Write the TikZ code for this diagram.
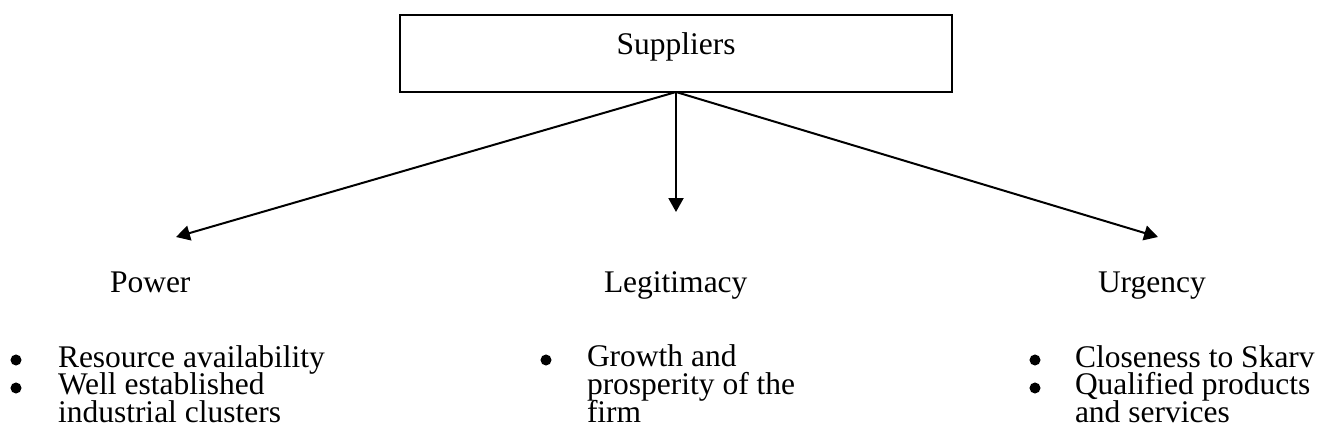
\documentclass[tikz,border=0pt]{standalone}
\usepackage{fontspec}
\setmainfont{Liberation Serif}
\usetikzlibrary{arrows.meta}
% 12pt text with a fixed line pitch
\newcommand\diagfont{\fontsize{12pt}{10.48pt}\selectfont\lineskiplimit=-20pt\relax\lineskip=0pt\relax}
\begin{document}
\begin{tikzpicture}[x=0.381pt,y=-0.381pt,
  every node/.style={font=\diagfont, inner sep=0pt, outer sep=0pt},
  topbox/.style={draw, line width=0.76pt, minimum width=552*0.381pt, minimum height=77*0.381pt,
                 text height=7.6pt, text depth=6.46pt},
  heading/.style={anchor=base west},
  item/.style={anchor=base west, align=left},
  dot/.style={circle, fill=black, minimum size=4.2pt},
  link/.style={line width=0.76pt, -{Triangle[length=5.3pt,width=5.7pt]}}]
  \useasboundingbox (0,0) rectangle (1320,446);

  % stakeholder group
  \node[topbox] (sup) at (676,53.5) {Suppliers};

  % attribute headings and arrow targets
  \node[heading] (power) at (110,292) {Power};
  \node[heading] (legit) at (604,292) {Legitimacy};
  \node[heading] (urg)   at (1098,292) {Urgency};
  \coordinate (tpower) at (176,237);
  \coordinate (tlegit) at (676,212);
  \coordinate (turg)   at (1158,237);

  \draw[link] (sup.south) -- (tpower);
  \draw[link] (sup.south) -- (tlegit);
  \draw[link] (sup.south) -- (turg);

  % Power (multi-line items are placed by their last baseline)
  \node[dot] (b1) at (16,360) {};
  \node[item] (p1) at (58,367) {Resource availability};
  \node[dot] (b2) at (16,388) {};
  \node[item] (p2) at (58,422) {Well established\\industrial clusters};

  % Legitimacy
  \node[dot] (b3) at (546,360) {};
  \node[item] (l1) at (587,422) {Growth and\\prosperity of the\\firm};

  % Urgency
  \node[dot] (b4) at (1035,360) {};
  \node[item] (u1) at (1075,367) {Closeness to Skarv};
  \node[dot] (b5) at (1035,388) {};
  \node[item] (u2) at (1075,422) {Qualified products\\and services};
\end{tikzpicture}
\end{document}
